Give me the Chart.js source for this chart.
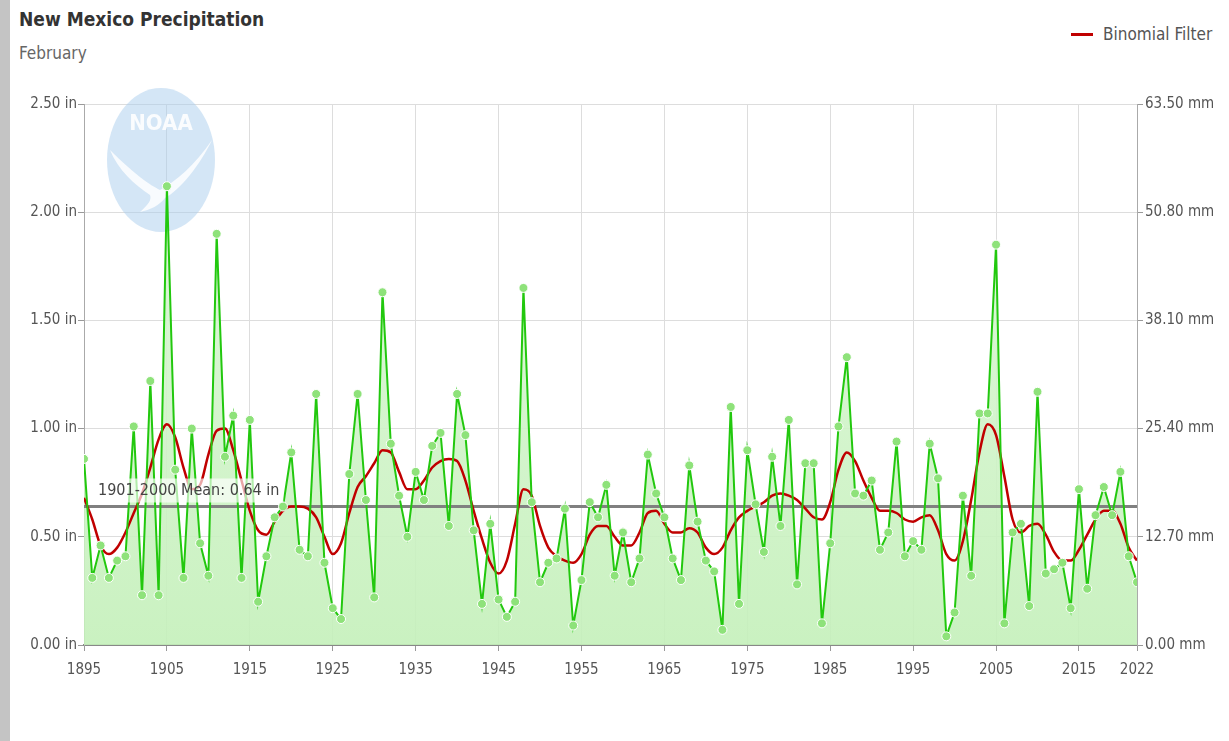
<!DOCTYPE html>
<html>
<head>
<meta charset="utf-8">
<title>New Mexico Precipitation</title>
<script src="https://cdn.jsdelivr.net/npm/chart.js@4.4.0/dist/chart.umd.min.js"></script>
<style>
  body { margin: 0; width: 1229px; height: 741px; overflow: hidden; background: #fff;
         font-family: "Liberation Sans Narrow", "DejaVu Sans Condensed", sans-serif; }
  #edge { position: absolute; left: 0; top: 0; width: 10px; height: 741px; background: #c4c4c4; }
  #title { position: absolute; left: 19px; top: 8px; font-size: 19px; font-weight: bold; color: #333; }
  #subtitle { position: absolute; left: 19px; top: 43px; font-size: 17px; color: #666; }
  #legend { position: absolute; left: 1071px; top: 24px; font-size: 17px; color: #555; white-space: nowrap; }
  #legend span.swatch { display: inline-block; width: 22px; height: 3px; background: #c00000;
                        vertical-align: middle; margin-right: 10px; position: relative; top: -1px; }
  #chart { position: absolute; left: 0; top: 0; }
</style>
</head>
<body>
<div id="edge"></div>
<div id="title">New Mexico Precipitation</div>
<div id="subtitle">February</div>
<div id="legend"><span class="swatch"></span>Binomial Filter</div>
<canvas id="chart" width="1229" height="741"></canvas>

<script>
const firstYear = 1895;
const lastYear = 2022;

// February precipitation, inches, 1895-2022
const precip = [
    0.86, 0.31, 0.46, 0.31, 0.39, 0.41, 1.01, 0.23, 1.22, 0.23,
    2.12, 0.81, 0.31, 1.00, 0.47, 0.32, 1.90, 0.87, 1.06, 0.31,
    1.04, 0.20, 0.41, 0.59, 0.64, 0.89, 0.44, 0.41, 1.16, 0.38,
    0.17, 0.12, 0.79, 1.16, 0.67, 0.22, 1.63, 0.93, 0.69, 0.50,
    0.80, 0.67, 0.92, 0.98, 0.55, 1.16, 0.97, 0.53, 0.19, 0.56,
    0.21, 0.13, 0.20, 1.65, 0.66, 0.29, 0.38, 0.40, 0.63, 0.09,
    0.30, 0.66, 0.59, 0.74, 0.32, 0.52, 0.29, 0.40, 0.88, 0.70,
    0.59, 0.40, 0.30, 0.83, 0.57, 0.39, 0.34, 0.07, 1.10, 0.19,
    0.90, 0.65, 0.43, 0.87, 0.55, 1.04, 0.28, 0.84, 0.84, 0.10,
    0.47, 1.01, 1.33, 0.70, 0.69, 0.76, 0.44, 0.52, 0.94, 0.41,
    0.48, 0.44, 0.93, 0.77, 0.04, 0.15, 0.69, 0.32, 1.07, 1.07,
    1.85, 0.10, 0.52, 0.56, 0.18, 1.17, 0.33, 0.35, 0.38, 0.17,
    0.72, 0.26, 0.60, 0.73, 0.60, 0.80, 0.41, 0.29
];

// Binomial filter curve
const binomial = [
    0.68, 0.58, 0.46, 0.42, 0.45, 0.52, 0.61, 0.70, 0.82, 0.95,
    1.02, 0.96, 0.82, 0.72, 0.74, 0.88, 0.99, 1.00, 0.90, 0.76,
    0.62, 0.53, 0.51, 0.57, 0.62, 0.64, 0.64, 0.63, 0.59, 0.50,
    0.42, 0.47, 0.61, 0.73, 0.78, 0.84, 0.90, 0.89, 0.80, 0.72,
    0.72, 0.76, 0.82, 0.85, 0.86, 0.85, 0.76, 0.62, 0.49, 0.38,
    0.33, 0.39, 0.56, 0.72, 0.69, 0.55, 0.45, 0.41, 0.39, 0.38,
    0.42, 0.51, 0.55, 0.55, 0.50, 0.46, 0.46, 0.52, 0.61, 0.62,
    0.56, 0.52, 0.52, 0.54, 0.52, 0.45, 0.42, 0.45, 0.53, 0.59,
    0.62, 0.64, 0.66, 0.69, 0.70, 0.69, 0.67, 0.63, 0.59, 0.58,
    0.66, 0.81, 0.89, 0.85, 0.76, 0.68, 0.62, 0.62, 0.61, 0.58,
    0.57, 0.59, 0.60, 0.53, 0.42, 0.39, 0.48, 0.67, 0.89, 1.02,
    0.97, 0.78, 0.58, 0.52, 0.55, 0.56, 0.51, 0.43, 0.39, 0.39,
    0.44, 0.51, 0.58, 0.62, 0.62, 0.56, 0.45, 0.39
];

const meanValue = 0.64;
const meanLabel = '1901-2000 Mean: 0.64 in';
const yearTicks = [1895, 1905, 1915, 1925, 1935, 1945, 1955, 1965, 1975, 1985, 1995, 2005, 2015, 2022];
const inchTicks = [0, 0.5, 1.0, 1.5, 2.0, 2.5];
const mmPerInch = 25.4;

const years = [];
for (let y = firstYear; y <= lastYear; y++) years.push(y);

const fontFamily = '"Liberation Sans Narrow", "DejaVu Sans Condensed", sans-serif';

// faint NOAA emblem behind the series
const noaaLogo = {
    id: 'noaaLogo',
    beforeDatasetsDraw(chart) {
        const c = chart.ctx;
        c.save();
        c.beginPath();
        c.ellipse(161, 160, 54, 72, 0, 0, Math.PI * 2);
        c.fillStyle = 'rgba(170, 205, 238, 0.5)';
        c.fill();
        // white gull shape
        c.beginPath();
        c.moveTo(110, 150);
        c.bezierCurveTo(135, 175, 150, 185, 160, 190);
        c.bezierCurveTo(175, 182, 195, 165, 212, 140);
        c.bezierCurveTo(200, 165, 180, 190, 165, 198);
        c.bezierCurveTo(160, 205, 150, 210, 140, 212);
        c.bezierCurveTo(148, 205, 152, 200, 150, 195);
        c.bezierCurveTo(135, 185, 118, 170, 110, 150);
        c.fillStyle = 'rgba(255, 255, 255, 0.85)';
        c.fill();
        c.font = 'bold 22px ' + fontFamily;
        c.fillStyle = 'rgba(255, 255, 255, 0.9)';
        c.textAlign = 'center';
        c.textBaseline = 'middle';
        c.fillText('NOAA', 161, 124);
        c.restore();
    }
};

// label of the mean line
const meanLabelPlugin = {
    id: 'meanLabel',
    afterDatasetsDraw(chart) {
        const c = chart.ctx;
        const xs = chart.scales.x;
        const ys = chart.scales.y;
        const x = xs.getPixelForValue(firstYear) + 14;
        const y = ys.getPixelForValue(meanValue) - 16;
        c.save();
        c.font = '16px ' + fontFamily;
        const w = c.measureText(meanLabel).width;
        c.fillStyle = 'rgba(255, 255, 255, 0.65)';
        c.fillRect(x - 4, y - 12, w + 8, 24);
        c.fillStyle = '#444';
        c.textBaseline = 'middle';
        c.fillText(meanLabel, x, y);
        c.restore();
    }
};

const ctx = document.getElementById('chart').getContext('2d');
new Chart(ctx, {
    type: 'line',
    data: {
        labels: years,
        datasets: [
            {
                label: 'Precipitation',
                data: years.map((yr, i) => ({ x: yr, y: precip[i] })),
                borderColor: '#22c80e',
                borderWidth: 2,
                pointRadius: 4.5,
                pointBackgroundColor: '#8ee27a',
                pointBorderColor: '#ffffff',
                pointBorderWidth: 1,
                tension: 0,
                fill: 'origin',
                backgroundColor(context) {
                    const area = context.chart.chartArea;
                    if (!area) return 'rgba(190, 238, 180, 0.7)';
                    const g = context.chart.ctx.createLinearGradient(0, area.top, 0, area.bottom);
                    g.addColorStop(0, 'rgba(225, 248, 220, 0.9)');
                    g.addColorStop(1, 'rgba(196, 240, 186, 0.9)');
                    return g;
                },
                order: 1
            },
            {
                label: 'Binomial Filter',
                data: years.map((yr, i) => ({ x: yr, y: binomial[i] })),
                borderColor: '#c00000',
                borderWidth: 2.5,
                pointRadius: 0,
                cubicInterpolationMode: 'monotone',
                fill: false,
                order: 2
            },
            {
                label: 'Mean',
                data: [{ x: firstYear, y: meanValue }, { x: lastYear, y: meanValue }],
                borderColor: '#808080',
                borderWidth: 3,
                pointRadius: 0,
                fill: false,
                order: 3
            }
        ]
    },
    options: {
        responsive: false,
        animation: false,
        layout: { padding: { top: 104, right: 0, bottom: 51, left: 0 } },
        plugins: {
            legend: { display: false },
            tooltip: { enabled: false },
            filler: { drawTime: 'beforeDatasetsDraw' }
        },
        scales: {
            x: {
                type: 'linear',
                min: firstYear,
                max: lastYear,
                afterBuildTicks(scale) {
                    scale.ticks = yearTicks.map(v => ({ value: v }));
                },
                afterFit(scale) { scale.height = 45; },
                ticks: {
                    callback: v => String(v),
                    color: '#555',
                    font: { family: fontFamily, size: 15 },
                    padding: 10,
                    maxRotation: 0,
                    autoSkip: false
                },
                grid: { color: '#dddddd', tickLength: 6, tickColor: '#999' },
                border: { color: '#888', width: 2 }
            },
            y: {
                position: 'left',
                min: 0,
                max: 2.5,
                afterBuildTicks(scale) {
                    scale.ticks = inchTicks.map(v => ({ value: v }));
                },
                afterFit(scale) { scale.width = 84; },
                ticks: {
                    callback: v => v.toFixed(2) + ' in',
                    color: '#555',
                    font: { family: fontFamily, size: 15 },
                    padding: 1
                },
                grid: { color: '#dddddd', tickLength: 6, tickColor: '#999' },
                border: { color: '#aaa' }
            },
            y2: {
                position: 'right',
                min: 0,
                max: 2.5 * mmPerInch,
                afterBuildTicks(scale) {
                    scale.ticks = inchTicks.map(v => ({ value: v * mmPerInch }));
                },
                afterFit(scale) { scale.width = 92; },
                ticks: {
                    callback: v => v.toFixed(2) + ' mm',
                    color: '#555',
                    font: { family: fontFamily, size: 15 },
                    padding: 2
                },
                grid: { drawOnChartArea: false, tickLength: 6, tickColor: '#999' },
                border: { color: '#aaa' }
            }
        }
    },
    plugins: [noaaLogo, meanLabelPlugin]
});
</script>
</body>
</html>
